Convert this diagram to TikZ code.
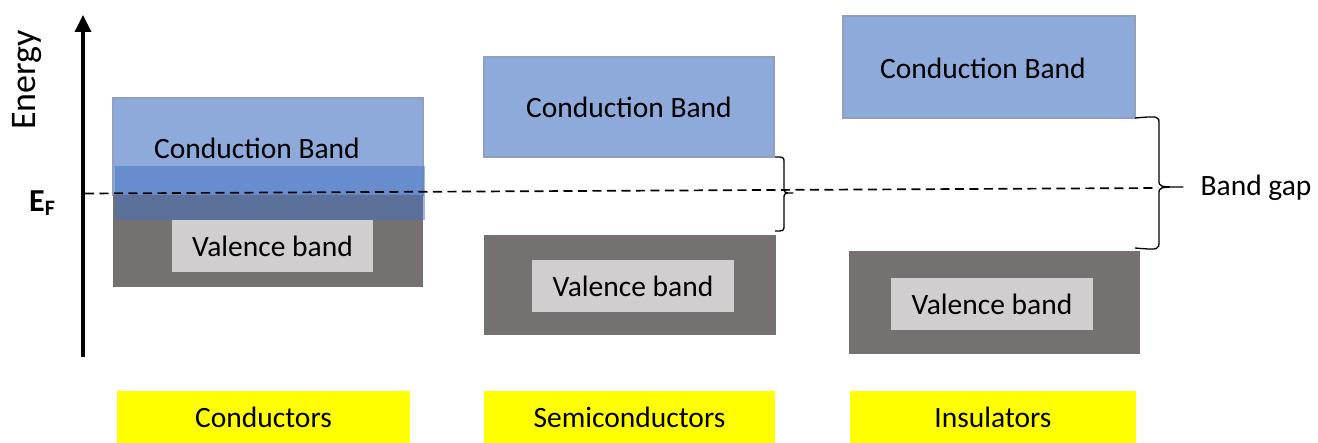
\documentclass[tikz,border=0pt]{standalone}
\usepackage{fontspec}
\setmainfont{Carlito}
\usetikzlibrary{arrows.meta}
\definecolor{cbfill}{HTML}{8EAADB}
\definecolor{cbline}{RGB}{143,160,190}
\definecolor{vbfill}{HTML}{767171}
\definecolor{vblight}{HTML}{D0CECE}
\definecolor{ovblue}{HTML}{4472C4}
\definecolor{yel}{HTML}{FFFF00}
\tikzset{
  bx/.style={anchor=north west, inner sep=0pt, outer sep=0pt, font=\fontsize{29.5}{33}\selectfont},
  cband/.style={bx, fill=cbfill, draw=cbline, line width=1.5pt},
  vband/.style={bx, fill=vbfill},
  vlight/.style={bx, fill=vblight},
  overlay/.style={bx, fill=ovblue, fill opacity=0.5},
  label/.style={bx, fill=yel},
  txt/.style={inner sep=0pt, font=\fontsize{29.5}{33}\selectfont},
  gapbrace/.style={line width=1.3pt, line join=round},
}
\begin{document}
\begin{tikzpicture}[x=1pt,y=-1pt]
\useasboundingbox (0,0) rectangle (1318,443);
% axis
\coordinate (axb) at (83,357);
\coordinate (axt) at (83,15);
\draw[line width=3.5pt, -{Triangle[width=16pt,length=17pt]}] (axb) -- (axt);
\node[txt, rotate=90, font=\fontsize{36}{40}\selectfont] (energy) at (27,80) {Energy};
\node[txt, font=\fontsize{32}{36}\selectfont\bfseries] (ef) at (42,203) {E\raisebox{-0.3ex}{\fontsize{22}{24}\selectfont\bfseries F}};

% conductors
\node[cband, minimum width=310pt, minimum height=97pt] (ccb) at (113,98) {};
\node[txt] (ccbt) at (257,148) {Conduction Band};
\node[vband, minimum width=310pt, minimum height=92pt] (cvb) at (113,195) {};
\node[overlay, minimum width=310pt, minimum height=54pt] (cov) at (115,166) {};
\node[vlight, minimum width=201pt, minimum height=52pt] (cvl) at (172,220) {Valence band};

% semiconductors
\node[cband, minimum width=290pt, minimum height=100pt] (scb) at (484,57) {Conduction Band};
\node[vband, minimum width=292pt, minimum height=100pt] (svb) at (484,235) {};
\node[vlight, minimum width=202pt, minimum height=52pt] (svl) at (532,260) {Valence band};

% insulators
\node[cband, minimum width=292pt, minimum height=102pt] (icb) at (843,16) {};
\node[txt] (icbt) at (983,68) {Conduction Band};
\node[vband, minimum width=291pt, minimum height=103pt] (ivb) at (849,251) {};
\node[vlight, minimum width=202pt, minimum height=52pt] (ivl) at (891,278) {Valence band};

% labels
\node[label, minimum width=293pt, minimum height=52pt] (lc) at (117,391) {Conductors};
\node[label, minimum width=291pt, minimum height=52pt] (ls) at (484,391) {Semiconductors};
\node[label, minimum width=286pt, minimum height=52pt] (li) at (850,391) {Insulators};

% fermi level
\coordinate (efl) at (85,193.5);
\coordinate (efr) at (1158,188);
\draw[line width=1.7pt, dash pattern=on 9pt off 5.5pt] (efl) -- (efr);

% braces
\draw[gapbrace] (775,157) .. controls (784,157) .. (784,163) -- (784,187)
  .. controls (784,193) .. (793,193) .. controls (784,193) .. (784,199) -- (784,225)
  .. controls (784,231) .. (775,231);
\draw[gapbrace] (1135,118) .. controls (1159,116) .. (1159,124) -- (1159,180)
  .. controls (1159,187) .. (1183,187) .. controls (1159,187) .. (1159,194) -- (1159,241)
  .. controls (1159,250) .. (1135,248);
\node[txt] (bg) at (1256,188) {Band gap};
\end{tikzpicture}
\end{document}
